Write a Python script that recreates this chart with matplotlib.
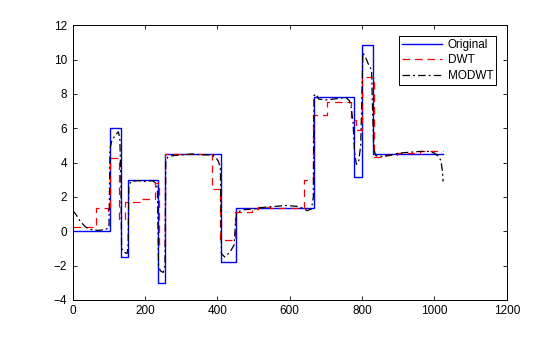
# Blocks signal: original vs DWT and MODWT denoising.
import matplotlib
matplotlib.use('Agg')
import matplotlib.pyplot as plt

# Original signal (piecewise constant).
orig_edges = [0, 102, 133, 154, 236, 256, 410, 451, 666, 778, 799, 829, 1024]
orig_levels = [0, 6, -1.5, 3, -3, 4.5, -1.8, 1.35, 7.8, 3.15, 10.85, 4.5]

# DWT reconstruction (piecewise constant).
dwt_edges = [0, 64, 96, 104, 128, 144, 192, 228, 238, 256, 384, 408, 448, 496,
             512, 544, 576, 616, 640, 664, 704, 768, 784, 800, 832, 864, 896,
             960, 1024]
dwt_levels = [0.23, 1.33, 1.2, 4.28, 0.7, 1.72, 1.9, 2.8, -0.8, 4.5, 2.45, -0.5,
              1.13, 1.3, 1.43, 1.38, 1.33, 1.38, 3.0, 6.76, 7.55, 6.47, 5.9, 9.0,
              4.3, 4.45, 4.57, 4.65]

# MODWT reconstruction.
modwt_x = [0, 8, 20, 35, 50, 70, 90, 100, 103, 108, 118, 126, 130, 133, 135, 140,
           150, 153, 155, 160, 180, 200, 220, 230, 234, 237, 242, 250, 255, 257,
           262, 275, 300, 330, 360, 385, 395, 402, 408, 411, 420, 435, 446, 450,
           453, 470, 500, 530, 560, 590, 620, 635, 648, 660, 665, 667, 672, 680,
           700, 720, 740, 755, 765, 770, 775, 779, 784, 790, 796, 799, 802, 810,
           818, 826, 829, 832, 838, 860, 880, 900, 930, 960, 985, 1000, 1012,
           1018, 1022, 1024]
modwt_y = [1.2, 1.0, 0.6, 0.25, 0.1, 0.05, 0.1, 0.2, 4.8, 5.3, 5.6, 5.8, 5.4, 3.0,
           -1.0, -1.2, -1.3, -0.8, 2.6, 2.9, 2.95, 2.9, 2.95, 2.8, 2.5, -2.0, -2.3,
           -2.4, -2.0, 4.0, 4.3, 4.4, 4.45, 4.5, 4.45, 4.45, 4.3, 4.1, 3.7, -1.3,
           -1.5, -1.2, -0.8, 0.5, 1.1, 1.25, 1.3, 1.4, 1.45, 1.5, 1.45, 1.35, 1.2,
           1.3, 2.0, 7.9, 8.0, 7.7, 7.65, 7.7, 7.75, 7.8, 7.6, 7.2, 6.3, 4.6, 3.9,
           4.0, 5.0, 7.5, 10.4, 10.1, 9.7, 9.4, 7.0, 4.8, 4.4, 4.35, 4.45, 4.55,
           4.6, 4.65, 4.65, 4.55, 4.35, 4.1, 3.5, 2.9]

plt.rcParams['font.family'] = ['Liberation Sans', 'DejaVu Sans']

fig = plt.figure(figsize=(5.6, 3.37), dpi=100)
ax = fig.add_axes([0.13, 0.11, 0.775, 0.815])

ax.step(orig_edges, orig_levels + [orig_levels[-1]], where='post',
        color='#0000ff', lw=1.0, label='Original')
ax.step(dwt_edges, dwt_levels + [dwt_levels[-1]], where='post',
        color='#ff0000', lw=0.9, dashes=(6, 4), label='DWT')
ax.plot(modwt_x, modwt_y, color='black', lw=0.9, dashes=(6, 2.5, 1.5, 2.5),
        label='MODWT')

ax.set_xlim(0, 1200)
ax.set_ylim(-4, 12)
ax.set_xticks(range(0, 1201, 200))
ax.set_yticks(range(-4, 13, 2))
ax.tick_params(direction='in', top=True, right=True, length=3, width=0.6,
               labelsize=8.5, pad=4)
for s in ax.spines.values():
    s.set_linewidth(0.7)

leg = ax.legend(loc='upper right', fontsize=8.5, handlelength=3.4,
                borderaxespad=0.9, fancybox=False, edgecolor='black',
                framealpha=1, borderpad=0.25, labelspacing=0.3, handletextpad=0.5)
leg.get_frame().set_linewidth(0.7)

fig.savefig('out.png', dpi=100)
